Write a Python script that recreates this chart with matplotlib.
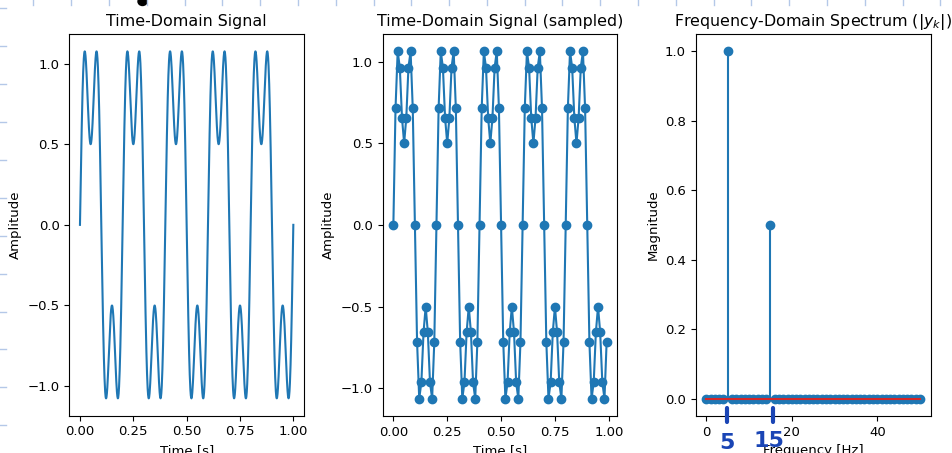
import numpy as np
import matplotlib
matplotlib.use("Agg")
import matplotlib.pyplot as plt
from matplotlib.patches import Ellipse

# tone components of the test signal
tone_freqs = [5, 15]        # Hz
tone_amps = [1.0, 0.5]

# sampled signal: one 5 Hz period (20 samples at 100 Hz), repeated 5 times
one_period = [0.0, 0.714, 1.063, 0.964, 0.657, 0.5, 0.657, 0.964, 1.063, 0.714,
              0.0, -0.714, -1.063, -0.964, -0.657, -0.5, -0.657, -0.964, -1.063, -0.714]
n_periods = 5
fs = 100

# spectrum (|y_k|), bins 0..50
spec_bins = list(range(51))
peak_bins = [5, 15]
peak_mags = [1.0, 0.5]

plt.rcParams['font.size'] = 9.5

# continuous curve
t = np.linspace(0, 1, 1000)
x = np.zeros_like(t)
for f, a in zip(tone_freqs, tone_amps):
    x += a * np.sin(2 * np.pi * f * t)

xs = np.tile(one_period, n_periods)
ts = np.arange(len(xs)) / fs

mags = np.zeros(len(spec_bins))
for b, m in zip(peak_bins, peak_mags):
    mags[b] = m

W, H = 952, 453
fig = plt.figure(figsize=(W / 100, H / 100), dpi=100)

def px_axes(x0, x1, y0, y1):
    return fig.add_axes([x0 / W, (H - y1) / H, (x1 - x0) / W, (y1 - y0) / H])

ax1 = px_axes(69.3, 304, 34, 415.7)
ax2 = px_axes(382.7, 617.3, 34, 416)
ax3 = px_axes(695.7, 930.7, 34, 416)

ax1.plot(t, x)
ax1.set_title("Time-Domain Signal")
ax1.set_xlabel("Time [s]")
ax1.set_ylabel("Amplitude")

ax2.plot(ts, xs, "o-")
ax2.set_title("Time-Domain Signal (sampled)")
ax2.set_xlabel("Time [s]")
ax2.set_ylabel("Amplitude")

ax3.stem(spec_bins, mags)
ax3.set_title("Frequency-Domain Spectrum ($|y_k|$)")
ax3.set_xlabel("Frequency [Hz]")
ax3.set_ylabel("Magnitude")

# notebook paper marks
pale = "#b4c8e8"
for y in np.arange(8.3, H, 37.9):
    fig.add_artist(plt.Line2D([0, 6 / W], [1 - y / H, 1 - y / H], color=pale, lw=1))
for xx in np.arange(33.3, W, 37.8):
    fig.add_artist(plt.Line2D([xx / W, xx / W], [1, 1 - 5 / H], color=pale, lw=1))
fig.add_artist(Ellipse((142.5 / W, 1 - 1.5 / H), 9 / W, 8 / H, color="black"))

# handwritten notes under the peaks
ink = "#1a45b5"
for xx in [727, 773]:
    fig.add_artist(plt.Line2D([xx / W, xx / W], [1 - 408 / H, 1 - 422 / H],
                              color=ink, lw=3, solid_capstyle="round"))
fig.text(727 / W, 1 - 443 / H, "5", color=ink, fontsize=16, fontweight="bold",
         ha="center", va="center")
fig.text(769 / W, 1 - 441 / H, "15", color=ink, fontsize=16, fontweight="bold",
         ha="center", va="center")

fig.savefig("out.png", dpi=100)
